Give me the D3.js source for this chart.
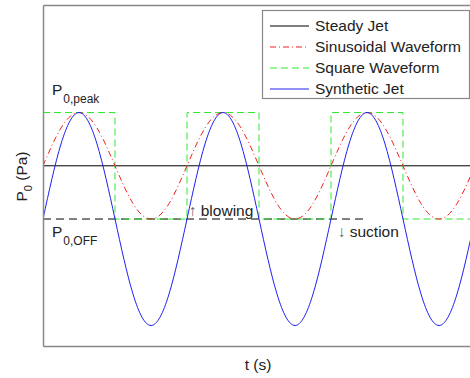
<!DOCTYPE html>
<html>
<head>
<meta charset="utf-8">
<script src="https://cdn.jsdelivr.net/npm/d3@7"></script>
<style>
  html, body { margin: 0; padding: 0; background: #fff; }
  svg { display: block; font-family: "Liberation Sans", Arial, sans-serif; }
</style>
</head>
<body>
<svg id="chart" width="470" height="378"></svg>
<script>
// Time axis in cycles; pressure in units of (P_peak - P_OFF)/2 above P_OFF.
const tSamples = [0, 0.125, 0.25, 0.375, 0.5, 0.625, 0.75, 0.875,
                  1, 1.125, 1.25, 1.375, 1.5, 1.625, 1.75, 1.875,
                  2, 2.125, 2.25, 2.375, 2.5, 2.625, 2.75, 2.875, 3];
const steadyJet = [1, 1];
const steadyT = [0, 3];
const sinusoidal = [1.00, 1.71, 2.00, 1.71, 1.00, 0.29, 0.00, 0.29,
                    1.00, 1.71, 2.00, 1.71, 1.00, 0.29, 0.00, 0.29,
                    1.00, 1.71, 2.00, 1.71, 1.00, 0.29, 0.00, 0.29, 1.00];
const synthetic = [0.00, 1.41, 2.00, 1.41, 0.00, -1.41, -2.00, -1.41,
                   0.00, 1.41, 2.00, 1.41, 0.00, -1.41, -2.00, -1.41,
                   0.00, 1.41, 2.00, 1.41, 0.00, -1.41, -2.00, -1.41, 0.00];
const squareT = [0, 0.5, 1, 1.5, 2, 2.5, 3];
const square = [2, 0, 2, 0, 2, 0, 0];
const offLineT = [0, 2.23];
const offLine = [0, 0];
const pPeak = 2, pOff = 0;
const legendLabels = ["Steady Jet", "Sinusoidal Waveform", "Square Waveform", "Synthetic Jet"];

const svg = d3.select("#chart");
const margin = { left: 43, top: 5, right: -5, bottom: 32 };
const W = 470, H = 378;

const x = d3.scaleLinear().domain([0, 3]).range([margin.left, W - margin.right]);
const y = d3.scaleLinear().domain([-2.385, 4.02]).range([H - margin.bottom, margin.top]);

const line = d3.line().x(d => x(d[0])).y(d => y(d[1]));
const zip = (ts, vs) => ts.map((t, i) => [t, vs[i]]);

const plot = svg.append("g");
plot.append("clipPath").attr("id", "clip")
  .append("rect").attr("x", x(0)).attr("y", y.range()[1])
  .attr("width", x(3) - x(0)).attr("height", y.range()[0] - y.range()[1]);

const lines = plot.append("g").attr("clip-path", "url(#clip)").attr("fill", "none");

const colors = { steady: "#000", sine: "#f22020", square: "#2ee82e", synth: "#2020f2" };

// P_OFF reference
lines.append("path").attr("d", line(zip(offLineT, offLine)))
  .attr("stroke", "#000").attr("stroke-width", 1).attr("stroke-dasharray", "8,5");

// steady jet
lines.append("path").attr("d", line(zip(steadyT, steadyJet)))
  .attr("stroke", colors.steady).attr("stroke-width", 1);

// square waveform
lines.append("path").attr("d", line.curve(d3.curveStepAfter)(zip(squareT, square)))
  .attr("stroke", colors.square).attr("stroke-width", 1).attr("stroke-dasharray", "7,4");

// sinusoidal waveform
lines.append("path").attr("d", line.curve(d3.curveNatural)(zip(tSamples, sinusoidal)))
  .attr("stroke", colors.sine).attr("stroke-width", 1).attr("stroke-dasharray", "6,3,1,3");

// synthetic jet
lines.append("path").attr("d", line.curve(d3.curveNatural)(zip(tSamples, synthetic)))
  .attr("stroke", colors.synth).attr("stroke-width", 1);

// axes box (left, top, bottom)
const axisColor = "#888";
svg.append("g").attr("transform", `translate(0,${y.range()[0]})`)
  .call(d3.axisBottom(x).tickValues([]).tickSizeOuter(0))
  .select(".domain").attr("stroke", axisColor).attr("stroke-width", 1.5);
svg.append("g").attr("transform", `translate(0,${y.range()[1]})`)
  .call(d3.axisTop(x).tickValues([]).tickSizeOuter(0))
  .select(".domain").attr("stroke", axisColor).attr("stroke-width", 1.5);
svg.append("g").attr("transform", `translate(${x(0)},0)`)
  .call(d3.axisLeft(y).tickValues([]).tickSizeOuter(0))
  .select(".domain").attr("stroke", axisColor).attr("stroke-width", 1.5);

const textColor = "#222";
// axis titles
svg.append("text").attr("x", x(1.5) - 1).attr("y", 370)
  .attr("text-anchor", "middle").attr("font-size", 15.5).attr("fill", textColor).text("t (s)");
const yt = svg.append("text")
  .attr("transform", `translate(27,${(y.range()[0] + y.range()[1]) / 2 + 1}) rotate(-90)`)
  .attr("text-anchor", "middle").attr("font-size", 15.5).attr("fill", textColor);
yt.append("tspan").text("P");
yt.append("tspan").attr("font-size", 11).attr("dy", 5).text("0");
yt.append("tspan").attr("dy", -5).text(" (Pa)");

// level labels
function levelLabel(px, py, sub) {
  const t = svg.append("text").attr("x", px).attr("y", py).attr("font-size", 15.5).attr("fill", textColor);
  t.append("tspan").text("P");
  t.append("tspan").attr("font-size", 12).attr("dy", 8).attr("dx", 1).text(sub);
}
levelLabel(52, y(pPeak) - 18, "0,peak");
levelLabel(52, y(pOff) + 18, "0,OFF");

// flow direction annotations
const ann = (px, py, arrow, word) => {
  const t = svg.append("text").attr("x", px).attr("y", py).attr("font-size", 15.5).attr("fill", textColor);
  t.append("tspan").attr("fill", "#666").text(arrow);
  t.append("tspan").attr("dx", 4).text(word);
};
ann(189, y(pOff) - 3, "\u2191", "blowing");
ann(338, y(pOff) + 18, "\u2193", "suction");

// legend
const lg = svg.append("g");
lg.append("rect").attr("x", 262.5).attr("y", 10.5).attr("width", 207).attr("height", 88)
  .attr("fill", "#fff").attr("stroke", "#888").attr("stroke-width", 1.2);
const legendStyles = [
  { c: colors.steady, d: null },
  { c: colors.sine, d: "6,3,1,3" },
  { c: colors.square, d: "7,4" },
  { c: colors.synth, d: null }
];
legendLabels.forEach((lab, i) => {
  const by = 31 + i * 21;
  lg.append("line").attr("x1", 270).attr("x2", 309).attr("y1", by - 5).attr("y2", by - 5)
    .attr("stroke", legendStyles[i].c).attr("stroke-width", 1)
    .attr("stroke-dasharray", legendStyles[i].d);
  lg.append("text").attr("x", 315).attr("y", by).attr("font-size", 15.5).attr("fill", textColor).text(lab);
});
</script>
</body>
</html>
